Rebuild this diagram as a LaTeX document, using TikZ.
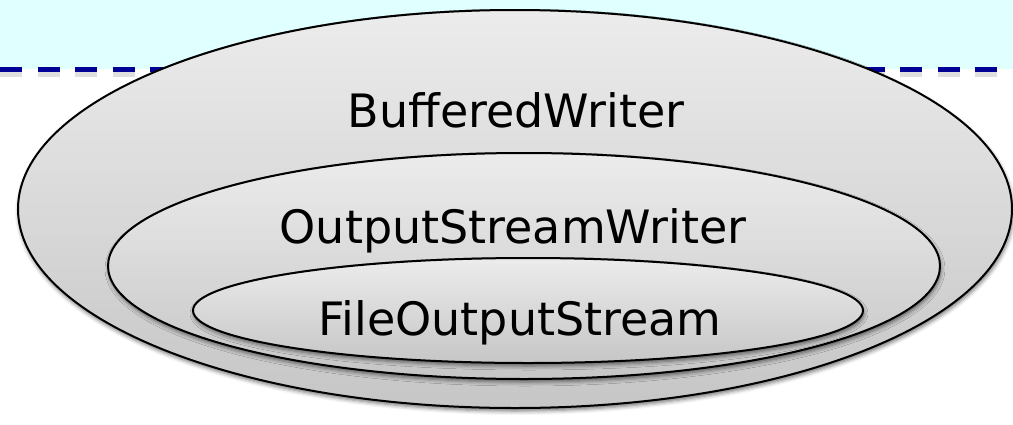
\documentclass[tikz,border=0pt]{standalone}
\usepackage{fontspec}
\setmainfont{DejaVu Sans}
\usetikzlibrary{shapes.geometric,shadows.blur}
\definecolor{bandcyan}{RGB}{224,255,255}
\definecolor{dashblue}{RGB}{0,0,150}
\definecolor{shellTop}{RGB}{236,236,236}
\definecolor{shellBot}{RGB}{198,198,198}
\tikzset{
  shell/.style={ellipse, draw=black, line width=2pt, inner sep=0pt,
    top color=shellTop, bottom color=shellBot,
    blur shadow={shadow xshift=1pt, shadow yshift=-3pt,
      shadow blur radius=4pt, shadow opacity=55}},
  label/.style={anchor=base, font=\fontsize{46}{52}\selectfont, inner sep=0pt},
  boundary/.style={draw=dashblue, line width=5pt, dash pattern=on 22pt off 15.5pt}
}
\begin{document}
\begin{tikzpicture}[x=1pt, y=-1pt]
  \useasboundingbox (0,0) rectangle (1013,424);
  % upper band with its dashed border
  \fill[bandcyan] (0,0) rectangle (1013,69);
  \coordinate (bl) at (0,69);
  \coordinate (br) at (1013,69);
  \draw[gray, opacity=0.25, line width=7pt, dash pattern=on 22pt off 15.5pt]
    ([yshift=-4pt]bl) -- ([yshift=-4pt]br);
  \draw[boundary] (bl) -- (br);
  % nested writer layers
  \node[shell, minimum width=994pt, minimum height=398pt] (outer) at (515,209) {};
  \node[shell, minimum width=832pt, minimum height=226pt] (middle) at (524,266) {};
  \node[shell, minimum width=670pt, minimum height=105pt] (inner) at (528,310.5) {};
  % layer names
  \node[label] (bw) at (516,127) {BufferedWriter};
  \node[label] (osw) at (513,243) {OutputStreamWriter};
  \node[label] (fos) at (520,335) {FileOutputStream};
\end{tikzpicture}
\end{document}
